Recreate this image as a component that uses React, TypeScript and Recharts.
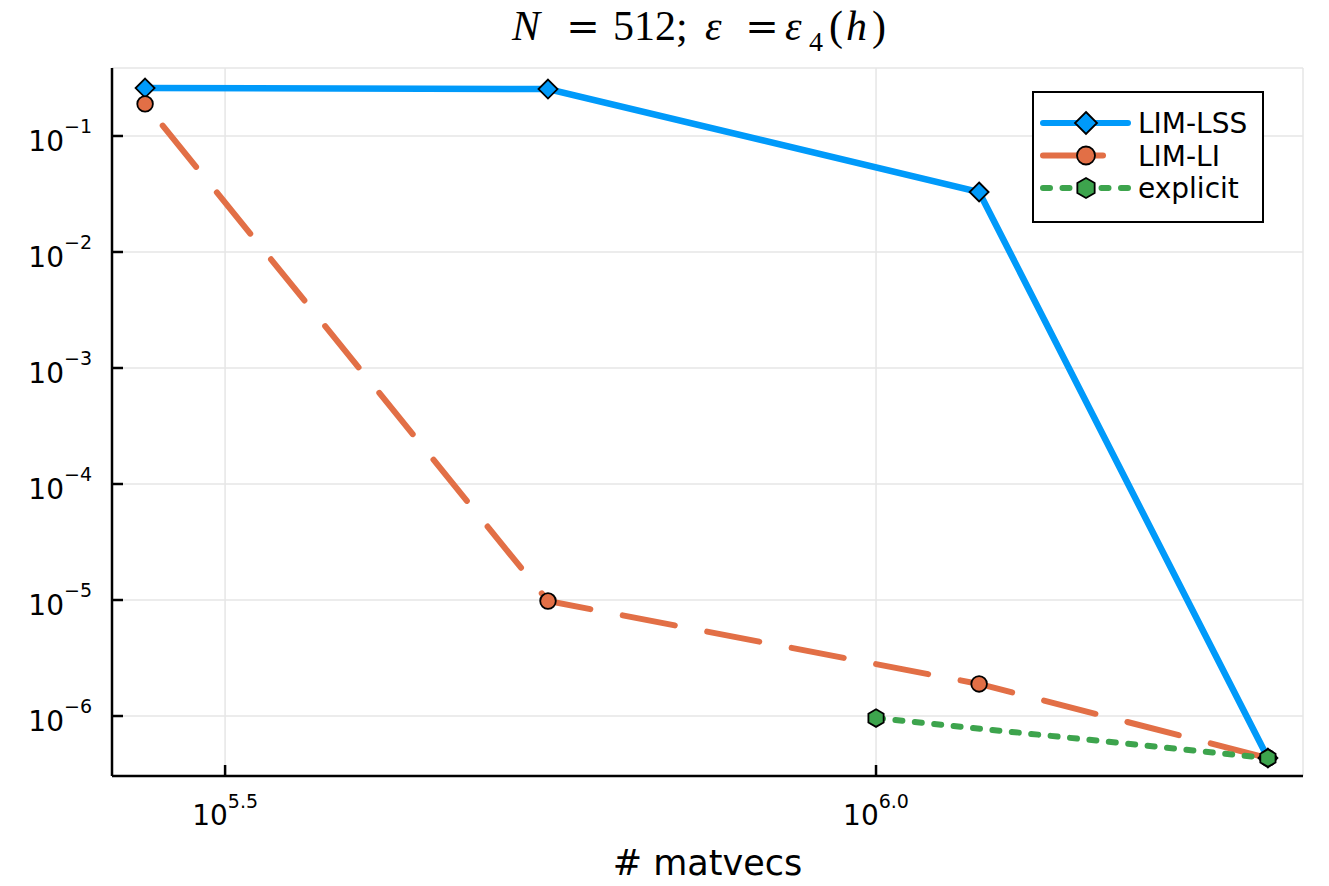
import React from 'react';
import { LineChart, Line, XAxis, YAxis, CartesianGrid } from 'recharts';

// values
const lssX = [274500, 559800, 1200000, 2000000];
const lssY = [0.259, 0.254, 0.0329, 4.34e-7];
const liX = [274500, 559800, 1200000, 2000000];
const liY = [0.189, 9.8e-6, 1.89e-6, 4.34e-7];
const explicitX = [1000000, 2000000];
const explicitY = [9.6e-7, 4.34e-7];

const xTicks = [10 ** 5.5, 10 ** 6];
const xTickExp = ['5.5', '6.0'];
const yTicks = [1e-6, 1e-5, 1e-4, 1e-3, 1e-2, 1e-1];
const yTickExp = ['−6', '−5', '−4', '−3', '−2', '−1'];

const BLUE = '#009AFA';
const ORANGE = '#E26F46';
const GREEN = '#3DA44D';
const FONT = '"DejaVu Sans", sans-serif';
const SERIF = '"Liberation Serif", serif';

const zip = (xs: number[], ys: number[]) => xs.map((x, i) => ({ x, y: ys[i] }));
const lssData = zip(lssX, lssY);
const liData = zip(liX, liY);
const explicitData = zip(explicitX, explicitY);

const nearest = (ticks: number[], v: number) =>
    ticks.findIndex(t => Math.abs(Math.log10(t) - Math.log10(v)) < 1e-6);

const YTick = (props: any) => {
    const { x, y, payload } = props;
    const i = nearest(yTicks, payload.value);
    return (
        <g>
            <line x1={x} x2={x + 11} y1={y} y2={y} stroke="#000" strokeWidth={2.5} />
            <text x={x - 20} y={y + 15} textAnchor="end" fontFamily={FONT} fontSize={28} fill="#000">
                <tspan>10</tspan>
                <tspan dy={-18} fontSize={19}>{yTickExp[i]}</tspan>
            </text>
        </g>
    );
};

const XTick = (props: any) => {
    const { x, y, payload } = props;
    const i = nearest(xTicks, payload.value);
    return (
        <g>
            <line x1={x} x2={x} y1={y} y2={y - 11} stroke="#000" strokeWidth={2.5} />
            <text x={x} y={y + 49} textAnchor="middle" fontFamily={FONT} fontSize={28} fill="#000">
                <tspan>10</tspan>
                <tspan dy={-17} fontSize={19}>{xTickExp[i]}</tspan>
            </text>
        </g>
    );
};

const diamondPts = (cx: number, cy: number, r: number) =>
    `${cx},${cy - r} ${cx + r},${cy} ${cx},${cy + r} ${cx - r},${cy}`;
const hexPts = (cx: number, cy: number, r: number) =>
    [0, 1, 2, 3, 4, 5]
        .map(k => {
            const a = -Math.PI / 2 + (k * Math.PI) / 3;
            return `${cx + r * Math.cos(a)},${cy + r * Math.sin(a)}`;
        })
        .join(' ');

const Diamond = (props: any) => (
    <polygon key={`d${props.index}`} points={diamondPts(props.cx, props.cy, 9.5)} fill={BLUE} stroke="#000" strokeWidth={1.8} />
);
const Circle = (props: any) => (
    <circle key={`c${props.index}`} cx={props.cx} cy={props.cy} r={7.8} fill={ORANGE} stroke="#000" strokeWidth={1.8} />
);
const Hexagon = (props: any) => (
    <polygon key={`h${props.index}`} points={hexPts(props.cx, props.cy, 8.8)} fill={GREEN} stroke="#000" strokeWidth={1.8} />
);

const legendItems = [
    { label: 'LIM-LSS', color: BLUE, dash: undefined as string | undefined, marker: 'diamond' },
    { label: 'LIM-LI', color: ORANGE, dash: '60 40', marker: 'circle' },
    { label: 'explicit', color: GREEN, dash: '7 12.5', marker: 'hex' },
];

const LegendBox = () => (
    <svg width={232} height={132} style={{ position: 'absolute', left: 1032, top: 91 }}>
        <rect x={1} y={1} width={230} height={130} fill="#fff" stroke="#000" strokeWidth={2} />
        {legendItems.map((it, i) => {
            const cy = 32 + i * 32.5;
            return (
                <g key={it.label}>
                    <line x1={11} x2={96} y1={cy} y2={cy} stroke={it.color} strokeWidth={6}
                        strokeDasharray={it.dash} strokeLinecap="round" />
                    {it.marker === 'diamond' && <polygon points={diamondPts(54, cy, 11)} fill={BLUE} stroke="#000" strokeWidth={1.8} />}
                    {it.marker === 'circle' && <circle cx={54} cy={cy} r={9} fill={ORANGE} stroke="#000" strokeWidth={1.8} />}
                    {it.marker === 'hex' && <polygon points={hexPts(54, cy, 10)} fill={GREEN} stroke="#000" strokeWidth={1.8} />}
                    <text x={106} y={cy + 10} fontFamily={FONT} fontSize={28} fill="#000">{it.label}</text>
                </g>
            );
        })}
    </svg>
);

// title laid out piece by piece to mimic LaTeX spacing
const Title = () => (
    <svg width={1329} height={60} style={{ position: 'absolute', left: 0, top: 0 }}>
        <g fontFamily={SERIF} fontSize={42} fill="#000">
            <text x={512} y={40} fontStyle="italic">N</text>
            <text x={583} y={40} textAnchor="middle" fontFamily='"DejaVu Serif", serif' fontSize={40}>=</text>
            <text x={613} y={40}>512;</text>
            <text x={705} y={40} fontStyle="italic">ε</text>
            <text x={762} y={40} textAnchor="middle" fontFamily='"DejaVu Serif", serif' fontSize={40}>=</text>
            <text x={785} y={40} fontStyle="italic">ε</text>
            <text x={809} y={51} fontSize={28}>4</text>
            <text x={829} y={40}>(</text>
            <text x={846} y={40} fontStyle="italic">h</text>
            <text x={872} y={40}>)</text>
        </g>
    </svg>
);

export default function App() {
    return (
        <div style={{ position: 'absolute', left: 0, top: 0, width: 1329, height: 886, background: '#fff' }}>
            <Title />
            <LineChart width={1329} height={886} margin={{ top: 68, right: 26, bottom: 0, left: 0 }}>
                <CartesianGrid stroke="#e6e6e6" strokeWidth={1.5} />
                <XAxis
                    type="number"
                    dataKey="x"
                    scale="log"
                    domain={[258900, 2128000]}
                    allowDataOverflow
                    ticks={xTicks}
                    interval={0}
                    height={110}
                    tickSize={0}
                    tickMargin={0}
                    tickLine={false}
                    tick={<XTick />}
                    axisLine={{ stroke: '#000', strokeWidth: 2.5 }}
                    label={{ value: '# matvecs', position: 'insideBottom', offset: 11, fontSize: 35, fontFamily: FONT, fill: '#000' }}
                />
                <YAxis
                    type="number"
                    dataKey="y"
                    scale="log"
                    domain={[3.04e-7, 0.3855]}
                    allowDataOverflow
                    ticks={yTicks}
                    interval={0}
                    width={112}
                    tickSize={0}
                    tickMargin={0}
                    tickLine={false}
                    tick={<YTick />}
                    axisLine={{ stroke: '#000', strokeWidth: 2.5 }}
                />
                <Line data={lssData} dataKey="y" stroke={BLUE} strokeWidth={6.5} dot={Diamond}
                    activeDot={false} isAnimationActive={false} />
                <Line data={liData} dataKey="y" stroke={ORANGE} strokeWidth={6} strokeDasharray="53 33"
                    strokeDashoffset={58} strokeLinecap="round" dot={Circle} activeDot={false} isAnimationActive={false} />
                <Line data={explicitData} dataKey="y" stroke={GREEN} strokeWidth={6} strokeDasharray="7 12.5"
                    strokeLinecap="round" dot={Hexagon} activeDot={false} isAnimationActive={false} />
            </LineChart>
            <LegendBox />
        </div>
    );
}
